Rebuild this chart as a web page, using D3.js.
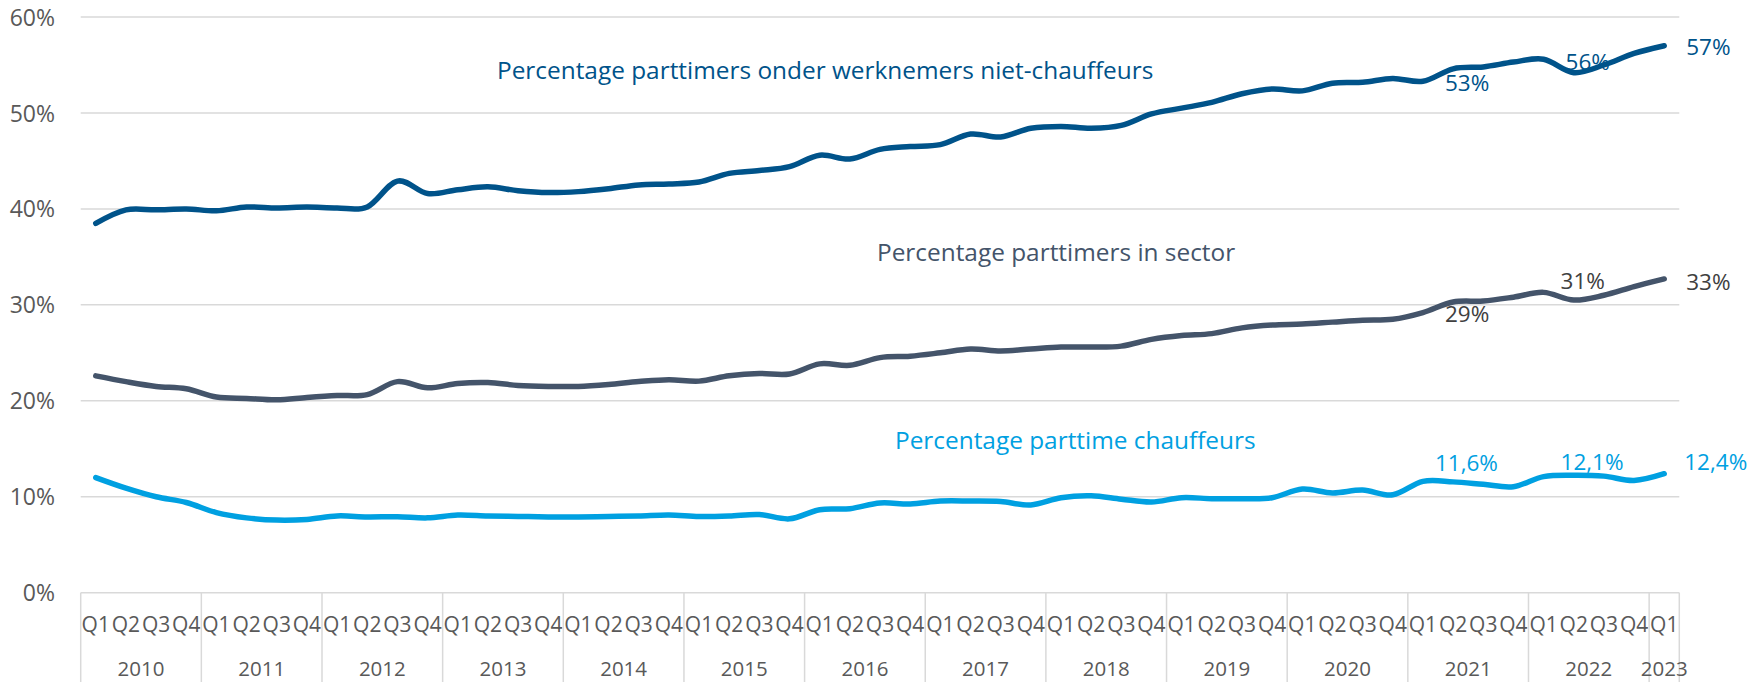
<!DOCTYPE html>
<html>
<head>
<meta charset="utf-8">
<script src="https://cdn.jsdelivr.net/npm/d3@7"></script>
<style>
  body { margin: 0; background: #fff; }
  text { font-family: "Open Sans", sans-serif; }
</style>
</head>
<body>
<div id="chart"></div>
<script>
// quarters 2010 Q1 .. 2023 Q1
var years = ["2010", "2011", "2012", "2013", "2014", "2015", "2016", "2017", "2018", "2019", "2020", "2021", "2022", "2023"];
var quarters = ["Q1", "Q2", "Q3", "Q4"];
var yTicks = [0, 10, 20, 30, 40, 50, 60];

// percentage parttimers onder werknemers niet-chauffeurs
var nietChauffeurs = [38.5, 39.9, 39.9, 40.0, 39.8, 40.2, 40.1, 40.2, 40.1, 40.2,
  42.9, 41.6, 42.0, 42.3, 41.9, 41.7, 41.8, 42.1, 42.5, 42.6,
  42.8, 43.7, 44.0, 44.4, 45.6, 45.2, 46.2, 46.5, 46.7, 47.8,
  47.5, 48.4, 48.6, 48.4, 48.7, 49.9, 50.5, 51.1, 52.0, 52.5,
  52.3, 53.1, 53.2, 53.6, 53.3, 54.6, 54.8, 55.3, 55.6, 54.2,
  55.0, 56.2, 57.0];

// percentage parttimers in sector
var sector = [22.6, 22.0, 21.5, 21.25, 20.4, 20.25, 20.1, 20.35, 20.55, 20.65,
  22.0, 21.35, 21.8, 21.9, 21.6, 21.5, 21.5, 21.7, 22.0, 22.2,
  22.05, 22.6, 22.85, 22.8, 23.85, 23.7, 24.5, 24.65, 25.0, 25.4,
  25.2, 25.4, 25.6, 25.6, 25.7, 26.4, 26.8, 27.0, 27.6, 27.9,
  28.0, 28.2, 28.4, 28.5, 29.2, 30.3, 30.4, 30.8, 31.3, 30.5,
  31.0, 31.9, 32.7];

// percentage parttime chauffeurs
var chauffeurs = [12.0, 10.9, 10.0, 9.4, 8.35, 7.8, 7.57, 7.64, 8.0, 7.9,
  7.92, 7.8, 8.1, 8.0, 7.95, 7.9, 7.9, 7.95, 8.0, 8.1,
  7.95, 8.0, 8.15, 7.7, 8.65, 8.75, 9.35, 9.25, 9.55, 9.55,
  9.5, 9.15, 9.9, 10.1, 9.75, 9.45, 9.9, 9.8, 9.8, 9.9,
  10.8, 10.4, 10.7, 10.2, 11.6, 11.55, 11.3, 11.05, 12.1, 12.25,
  12.15, 11.7, 12.4];

var seriesNames = ["Percentage parttimers onder werknemers niet-chauffeurs", "Percentage parttimers in sector", "Percentage parttime chauffeurs"];
var pointLabels = [
  {s: 0, i: 44, text: "53%"}, {s: 0, i: 48, text: "56%"}, {s: 0, i: 52, text: "57%"},
  {s: 1, i: 44, text: "29%"}, {s: 1, i: 48, text: "31%"}, {s: 1, i: 52, text: "33%"},
  {s: 2, i: 44, text: "11,6%"}, {s: 2, i: 48, text: "12,1%"}, {s: 2, i: 52, text: "12,4%"}
];

(function() {
var categories = [];
years.forEach(function(yr) {
  quarters.forEach(function(q) {
    if (yr === "2023" && q !== "Q1") return;
    categories.push({year: yr, q: q, key: yr + q});
  });
});

var width = 1762, height = 682;
var plotLeft = 80.7, plotRight = 1679.3, plotTop = 17, plotBottom = 592.7;

var lineColors = ["#00538A", "#44546A", "#00A0E1"];
var labelColors = ["#00538A", "#404040", "#00A0E1"];
var titleColors = ["#00538A", "#44546A", "#00A0E1"];
// annotation placement (left x, centre y) and label offsets from the point
var titlePos = [[497, 70], [877, 252], [895, 440]];
var labelOffsets = [[22, 2], [22, 3], [22, 1.5], [22, 2], [17, -11], [22, 3], [12, -18], [17, -14], [20, -12]];

var svg = d3.select("#chart").append("svg")
  .attr("width", width)
  .attr("height", height);

var x = d3.scaleBand()
  .domain(categories.map(function(d) { return d.key; }))
  .range([plotLeft, plotRight])
  .padding(0);

var y = d3.scaleLinear()
  .domain([0, 60])
  .range([plotBottom, plotTop]);

var cx = function(i) { return x(categories[i].key) + x.bandwidth() / 2; };

// gridlines
svg.append("g").selectAll("line")
  .data(yTicks)
  .enter().append("line")
  .attr("x1", plotLeft).attr("x2", plotRight)
  .attr("y1", function(d) { return y(d); })
  .attr("y2", function(d) { return y(d); })
  .style("stroke", "#D9D9D9")
  .style("stroke-width", 1.5);

// y axis labels
var yAxis = svg.append("g")
  .attr("transform", "translate(55,0)")
  .call(d3.axisLeft(y).tickValues(yTicks).tickSize(0).tickPadding(0).tickFormat(function(d) { return d + "%"; }));
yAxis.select(".domain").remove();
yAxis.selectAll("text")
  .style("font-family", "'Open Sans', sans-serif")
  .style("font-size", "23px")
  .style("fill", "#595959")
  .attr("dy", "0.35em");

// category axis: quarter labels
var xAxis = svg.append("g")
  .attr("transform", "translate(0," + plotBottom + ")")
  .call(d3.axisBottom(x).tickSize(0).tickPadding(0).tickFormat(function(k) {
    return categories.find(function(c) { return c.key === k; }).q;
  }));
xAxis.select(".domain").remove();
xAxis.selectAll("text")
  .attr("y", 32)
  .attr("dy", "0.35em")
  .style("font-family", "'Open Sans', sans-serif")
  .style("font-size", "21px")
  .style("fill", "#595959");

// year groups
var yearGroups = years.map(function(yr) {
  var cs = categories.filter(function(c) { return c.year === yr; });
  return {year: yr, x0: x(cs[0].key), x1: x(cs[cs.length - 1].key) + x.bandwidth()};
});

var sepX = [plotLeft].concat(yearGroups.map(function(g) { return g.x1; }));
svg.append("g").selectAll("line")
  .data(sepX)
  .enter().append("line")
  .attr("x1", function(d) { return d; })
  .attr("x2", function(d) { return d; })
  .attr("y1", plotBottom)
  .attr("y2", height)
  .style("stroke", "#D9D9D9")
  .style("stroke-width", 1.5);

svg.append("g").selectAll("text")
  .data(yearGroups)
  .enter().append("text")
  .attr("x", function(d) { return (d.x0 + d.x1) / 2; })
  .attr("y", 668.5)
  .attr("dy", "0.35em")
  .attr("text-anchor", "middle")
  .style("font-size", "20.5px")
  .style("fill", "#595959")
  .text(function(d) { return d.year; });

// lines
var allSeries = [nietChauffeurs, sector, chauffeurs];
var line = d3.line()
  .x(function(d, i) { return cx(i); })
  .y(function(d) { return y(d); })
  .curve(d3.curveCardinal.tension(0));

svg.append("g").selectAll("path")
  .data(allSeries)
  .enter().append("path")
  .attr("d", function(d) { return line(d); })
  .style("fill", "none")
  .style("stroke", function(d, i) { return lineColors[i]; })
  .style("stroke-width", 5.5)
  .style("stroke-linecap", "round")
  .style("stroke-linejoin", "round");

// series titles
svg.append("g").selectAll("text")
  .data(seriesNames)
  .enter().append("text")
  .attr("x", function(d, i) { return titlePos[i][0]; })
  .attr("y", function(d, i) { return titlePos[i][1]; })
  .attr("dy", "0.35em")
  .style("font-size", "24.4px")
  .style("fill", function(d, i) { return titleColors[i]; })
  .text(function(d) { return d; });

// data labels
svg.append("g").selectAll("text")
  .data(pointLabels)
  .enter().append("text")
  .attr("x", function(d, k) { return cx(d.i) + labelOffsets[k][0]; })
  .attr("y", function(d, k) { return y(allSeries[d.s][d.i]) + labelOffsets[k][1]; })
  .attr("dy", "0.35em")
  .style("font-size", "22.5px")
  .style("fill", function(d) { return labelColors[d.s]; })
  .text(function(d) { return d.text; });
})();
</script>
</body>
</html>
